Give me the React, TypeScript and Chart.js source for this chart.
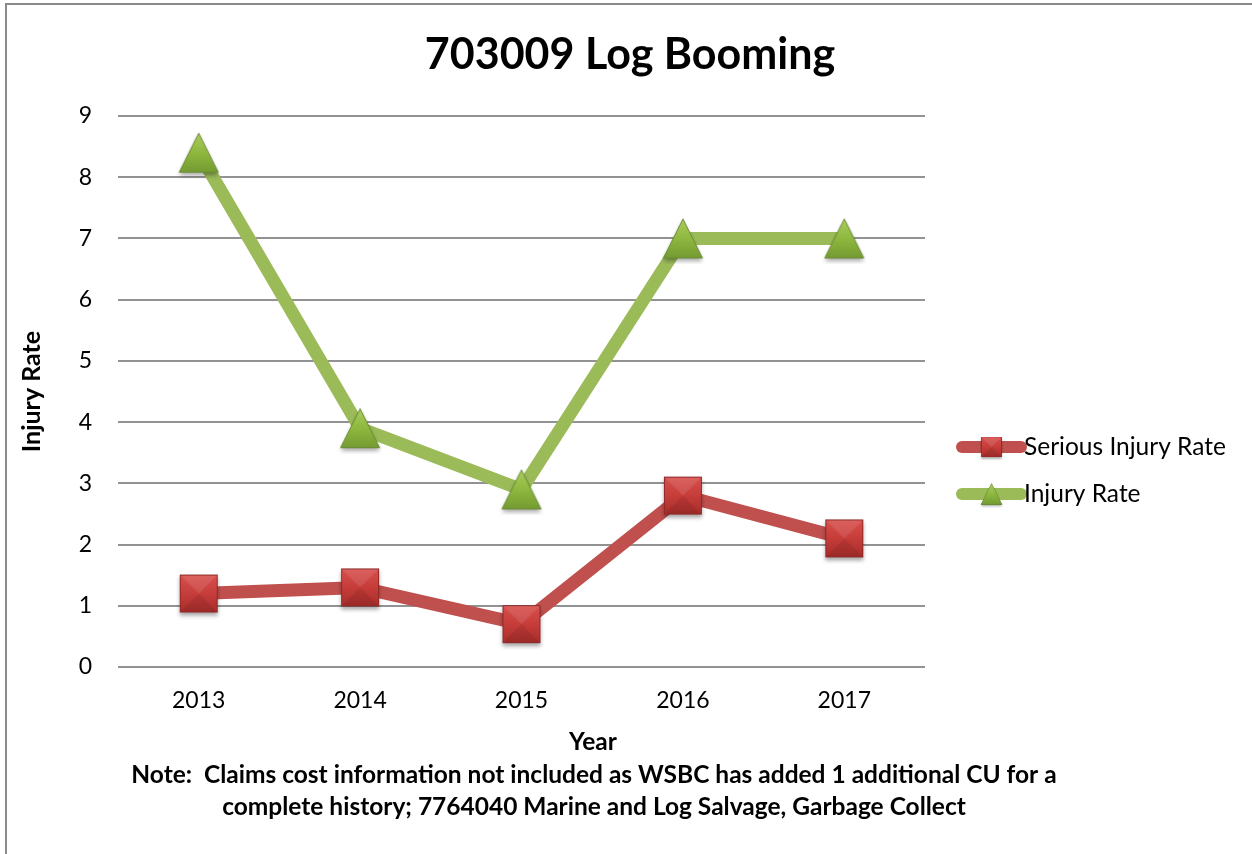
import React, { useEffect, useRef } from "react";
import { Chart, registerables } from "chart.js";

Chart.register(...registerables);

const years = ["2013", "2014", "2015", "2016", "2017"];
const seriousInjuryRate = [1.2, 1.3, 0.7, 2.8, 2.1];
const injuryRate = [8.4, 3.9, 2.9, 7.0, 7.0];
const seriesLabels = ["Serious Injury Rate", "Injury Rate"];
const titleText = "703009 Log Booming";
const xTitleText = "Year";
const yTitleText = "Injury Rate";
const noteLines = [
  "Note:  Claims cost information not included as WSBC has added 1 additional CU for a",
  "complete history; 7764040 Marine and Log Salvage, Garbage Collect",
];

const FONT = "Lato, 'Open Sans', sans-serif";
const RED_LINE = "#C0504D";
const GREEN_LINE = "#9BBB59";

function makeSquare(): HTMLCanvasElement {
  const c = document.createElement("canvas");
  c.width = 52;
  c.height = 52;
  const g = c.getContext("2d")!;
  const s = 38;
  const x0 = 7;
  const y0 = 7;
  g.save();
  g.shadowColor = "rgba(0,0,0,0.35)";
  g.shadowBlur = 4;
  g.shadowOffsetY = 3;
  const grad = g.createLinearGradient(0, y0, 0, y0 + s);
  grad.addColorStop(0, "#d8504d");
  grad.addColorStop(0.5, "#c63d3a");
  grad.addColorStop(1, "#a82d2b");
  g.fillStyle = grad;
  g.fillRect(x0, y0, s, s);
  g.restore();
  g.fillStyle = "rgba(255,255,255,0.10)";
  g.beginPath();
  g.moveTo(x0, y0);
  g.lineTo(x0 + s, y0);
  g.lineTo(x0 + s / 2, y0 + s / 2);
  g.closePath();
  g.fill();
  g.fillStyle = "rgba(0,0,0,0.08)";
  g.beginPath();
  g.moveTo(x0, y0 + s);
  g.lineTo(x0 + s, y0 + s);
  g.lineTo(x0 + s / 2, y0 + s / 2);
  g.closePath();
  g.fill();
  g.strokeStyle = "#8e2a28";
  g.lineWidth = 1;
  g.strokeRect(x0 + 0.5, y0 + 0.5, s - 1, s - 1);
  return c;
}

function makeTriangle(): HTMLCanvasElement {
  const c = document.createElement("canvas");
  c.width = 52;
  c.height = 52;
  const g = c.getContext("2d")!;
  const w = 39;
  const h = 39;
  const cx = 26;
  const top = 26 - h / 2;
  const bot = 26 + h / 2;
  g.save();
  g.shadowColor = "rgba(0,0,0,0.35)";
  g.shadowBlur = 4;
  g.shadowOffsetY = 3;
  const grad = g.createLinearGradient(0, top, 0, bot);
  grad.addColorStop(0, "#a9cc5c");
  grad.addColorStop(0.5, "#8fb83f");
  grad.addColorStop(1, "#739b32");
  g.fillStyle = grad;
  g.beginPath();
  g.moveTo(cx, top);
  g.lineTo(cx + w / 2, bot);
  g.lineTo(cx - w / 2, bot);
  g.closePath();
  g.fill();
  g.restore();
  g.strokeStyle = "#6b8a35";
  g.lineWidth = 1;
  g.beginPath();
  g.moveTo(cx, top);
  g.lineTo(cx + w / 2, bot);
  g.lineTo(cx - w / 2, bot);
  g.closePath();
  g.stroke();
  return c;
}

export default function App() {
  const ref = useRef<HTMLCanvasElement | null>(null);

  useEffect(() => {
    if (!ref.current) return;
    const square = makeSquare();
    const triangle = makeTriangle();
    const markers = [square, triangle];

    const extras = {
      id: "excelExtras",
      afterDraw(chart: any) {
        const ctx = chart.ctx as CanvasRenderingContext2D;
        const area = chart.chartArea;
        ctx.save();
        ctx.fillStyle = "#000";
        ctx.textAlign = "center";
        ctx.textBaseline = "middle";
        ctx.font = `bold 43px ${FONT}`;
        ctx.fillText(titleText, 630, area.top - 61);
        ctx.font = `bold 24.5px ${FONT}`;
        ctx.fillText(xTitleText, 593, area.bottom + 75);
        ctx.font = `bold 24.5px ${FONT}`;
        noteLines.forEach((line, i) => {
          ctx.fillText(line, 594, area.bottom + 108 + i * 32);
        });
        chart.data.datasets.forEach((ds: any, i: number) => {
          const y = 447 + i * 47;
          const x1 = area.right + 37;
          const x2 = area.right + 96;
          ctx.strokeStyle = ds.borderColor;
          ctx.lineWidth = 12;
          ctx.lineCap = "round";
          ctx.beginPath();
          ctx.moveTo(x1, y);
          ctx.lineTo(x2, y);
          ctx.stroke();
          const m = markers[i];
          const sz = 28;
          ctx.drawImage(m, (x1 + x2) / 2 - sz / 2, y - sz / 2, sz, sz);
          ctx.fillStyle = "#000";
          ctx.textAlign = "left";
          ctx.font = `24.5px ${FONT}`;
          ctx.fillText(ds.label, x2 + 3, y);
        });
        ctx.restore();
      },
    };

    const chart = new Chart(ref.current, {
      type: "line",
      data: {
        labels: years,
        datasets: [
          {
            label: seriesLabels[0],
            data: seriousInjuryRate,
            borderColor: RED_LINE,
            backgroundColor: RED_LINE,
            borderWidth: 13,
            pointStyle: square as any,
            pointRadius: 20,
            clip: false as any,
          },
          {
            label: seriesLabels[1],
            data: injuryRate,
            borderColor: GREEN_LINE,
            backgroundColor: GREEN_LINE,
            borderWidth: 13,
            pointStyle: triangle as any,
            pointRadius: 20,
            clip: false as any,
          },
        ],
      },
      options: {
        responsive: false,
        animation: false,
        layout: { padding: { left: 17, right: 327, top: 116, bottom: 127 } },
        plugins: {
          legend: { display: false },
          tooltip: { enabled: false },
          title: { display: false },
        },
        scales: {
          x: {
            offset: true,
            grid: { display: false, drawTicks: false },
            border: { display: false },
            ticks: { color: "#000", font: { family: FONT, size: 23 }, padding: 20 },
            afterFit: (s: any) => {
              s.height = 60;
            },
          },
          y: {
            min: 0,
            max: 9,
            ticks: { stepSize: 1, color: "#000", font: { family: FONT, size: 23 }, padding: 26 },
            grid: { color: "#929292", lineWidth: 2, drawTicks: false },
            border: { display: false },
            title: {
              display: true,
              text: yTitleText,
              color: "#000",
              font: { family: FONT, size: 25, weight: "bold" },
              padding: 0,
            },
            afterFit: (s: any) => {
              s.width = 101;
            },
          },
        },
      },
      plugins: [extras],
    });
    return () => chart.destroy();
  }, []);

  return (
    <div style={{ position: "fixed", left: 0, top: 0, width: 1252, height: 854, background: "#fff" }}>
      <canvas ref={ref} width={1252} height={854} style={{ display: "block" }} />
      <div
        style={{
          position: "absolute",
          left: 5,
          top: 3,
          right: 0,
          bottom: 0,
          borderTop: "2px solid #8a8a8a",
          borderLeft: "2px solid #8a8a8a",
          pointerEvents: "none",
        }}
      />
    </div>
  );
}
